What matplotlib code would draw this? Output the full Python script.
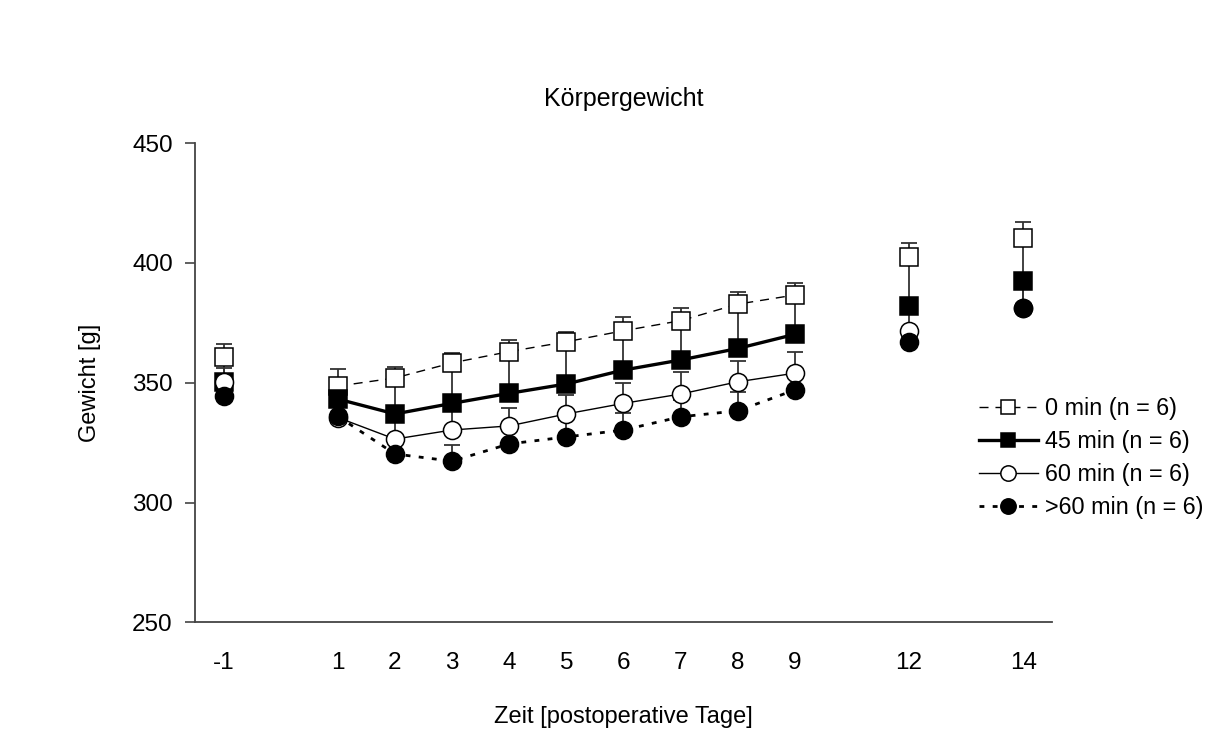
import matplotlib
matplotlib.use("Agg")
import matplotlib.pyplot as plt
import numpy as np

plt.rcParams["font.family"] = ["Liberation Sans", "DejaVu Sans"]
plt.rcParams["lines.scale_dashes"] = False

# Postoperative days and mean body weight per group (g), one-sided error (g)
days = [-1, 1, 2, 3, 4, 5, 6, 7, 8, 9, 12, 14]
day_labels = ["-1", "1", "2", "3", "4", "5", "6", "7", "8", "9", "12", "14"]

w_0min = [360.7, 348.6, 352.0, 358.3, 363.0, 367.1, 371.7, 375.9, 382.8, 386.6, 402.5, 410.2]
err_0min = [5.3, 7.1, 4.6, 4.0, 4.8, 4.2, 5.8, 5.1, 4.9, 5.1, 5.6, 6.7]

w_45min = [350.3, 343.2, 337.0, 341.4, 345.6, 349.5, 355.3, 359.5, 364.3, 370.2, 382.1, 392.4]
err_45min = [9.0, 5.0, 14.0, 16.0, 16.0, 16.5, 15.5, 15.5, 17.5, 15.5, 19.5, 17.0]

w_60min = [350.3, 335.5, 326.5, 330.3, 332.0, 337.0, 341.4, 345.3, 350.4, 354.0, 371.6, 381.0]
err_60min = [6.0, 7.0, 8.0, 8.0, 7.6, 8.0, 8.6, 9.3, 8.8, 9.0, 9.5, 8.0]

w_over60 = [344.5, 336.0, 320.3, 317.3, 324.5, 327.4, 330.3, 335.8, 338.3, 347.0, 367.0, 381.0]
err_over60 = [5.0, 6.0, 6.0, 6.7, 7.0, 7.0, 7.0, 7.0, 7.9, 6.0, 4.0, 9.0]

group_labels = ["0 min (n = 6)", "45 min (n = 6)", "60 min (n = 6)", ">60 min (n = 6)"]

# Broken time axis: days after 9 are pulled one unit closer
days_arr = np.array(days, dtype=float)
xpos = np.where(days_arr > 9, days_arr - 1, days_arr)
connected = (days_arr >= 1) & (days_arr <= 9)

fig = plt.figure(figsize=(12.15, 7.56), dpi=100)
fig.patch.set_facecolor("white")
ax = fig.add_axes([0.1605, 0.1766, 0.7053, 0.6342])

series = [
    (w_0min, err_0min, dict(marker="s", mfc="white", mec="black", ms=12.5),
     dict(ls=(0, (6.5, 5)), lw=1.0)),
    (w_45min, err_45min, dict(marker="s", mfc="black", mec="black", ms=12.5),
     dict(ls="-", lw=2.4)),
    (w_60min, err_60min, dict(marker="o", mfc="white", mec="black", ms=13),
     dict(ls="-", lw=1.0)),
    (w_over60, err_over60, dict(marker="o", mfc="black", mec="black", ms=13),
     dict(ls=(0, (3.5, 6)), lw=2.0)),
]

ecol = "#333333"
handles = []
for i, (vals, errs, mk, ln) in enumerate(series):
    vals = np.array(vals)
    errs = np.array(errs)
    ax.errorbar(xpos, vals, yerr=[np.zeros_like(errs), errs], fmt="none",
                ecolor=ecol, elinewidth=1.3, capsize=6, capthick=1.3, zorder=1)
    ax.plot(xpos[connected], vals[connected], color="black", zorder=2, **ln)
    ax.plot(xpos, vals, ls="none", mew=1.1, zorder=3 + i, **mk)
    handles.append(plt.Line2D([], [], color="black", **ln, **mk, mew=1.1))

ax.set_xlim(-1.5, 13.5)
ax.set_ylim(250, 450)
ax.set_yticks([250, 300, 350, 400, 450])
ax.set_xticks(xpos)
ax.set_xticklabels(day_labels)
ax.tick_params(axis="x", length=0, pad=21, labelsize=17.5)
ax.tick_params(axis="y", length=7, width=1.2, direction="out", pad=9,
               labelsize=17.5, color="#444444")
for s in ["top", "right"]:
    ax.spines[s].set_visible(False)
for s in ["left", "bottom"]:
    ax.spines[s].set_linewidth(1.3)
    ax.spines[s].set_color("#444444")

ax.set_title("Körpergewicht", fontsize=18, pad=27)
ax.set_ylabel("Gewicht [g]", fontsize=17, labelpad=22)
ax.set_xlabel("Zeit [postoperative Tage]", fontsize=17, labelpad=23)

fig.legend(handles, group_labels, loc="center left",
           bbox_to_anchor=(0.806, 0.394), frameon=False, fontsize=16.8,
           handlelength=2.5, handletextpad=0.3, labelspacing=0.42,
           borderpad=0, borderaxespad=0, markerscale=0.85)

fig.savefig("out.png", dpi=100, facecolor="white")
